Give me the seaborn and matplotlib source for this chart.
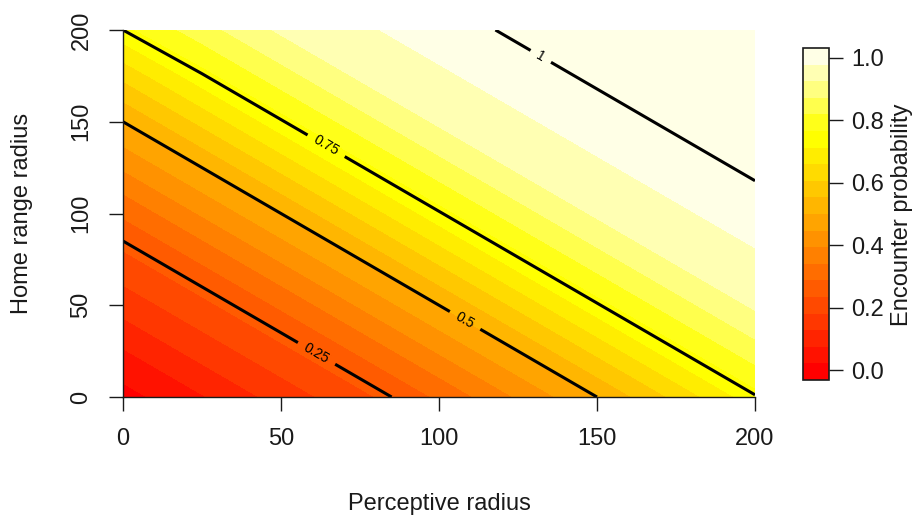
import numpy as np
import matplotlib
matplotlib.use("Agg")
import matplotlib.pyplot as plt
from matplotlib.colors import ListedColormap, BoundaryNorm, hsv_to_rgb
import seaborn as sns

# Grid of radii (both axes) and encounter probability at each node
perceptive_radius = [0, 25, 50, 75, 100, 125, 150, 175, 200]
home_range_radius = [0, 25, 50, 75, 100, 125, 150, 175, 200]
# rows: home range radius (0 -> 200), columns: perceptive radius (0 -> 200)
encounter_prob = [
    [0.000, 0.070, 0.150, 0.220, 0.295, 0.400, 0.500, 0.620, 0.745],
    [0.070, 0.150, 0.220, 0.295, 0.400, 0.500, 0.620, 0.745, 0.850],
    [0.150, 0.220, 0.295, 0.400, 0.500, 0.620, 0.745, 0.850, 0.935],
    [0.220, 0.295, 0.400, 0.500, 0.620, 0.745, 0.850, 0.935, 0.975],
    [0.295, 0.400, 0.500, 0.620, 0.745, 0.850, 0.935, 0.975, 0.990],
    [0.400, 0.500, 0.620, 0.745, 0.850, 0.935, 0.975, 0.990, 1.004],
    [0.500, 0.620, 0.745, 0.850, 0.935, 0.975, 0.990, 1.004, 1.015],
    [0.620, 0.745, 0.850, 0.935, 0.975, 0.990, 1.004, 1.015, 1.025],
    [0.750, 0.850, 0.935, 0.975, 0.990, 1.004, 1.015, 1.025, 1.030],
]
line_levels = [0.25, 0.5, 0.75, 1.0]
line_labels = {0.25: "0.25", 0.5: "0.5", 0.75: "0.75", 1.0: "1"}
label_spots = [(62, 26), (108, 41), (65, 139), (132, 185)]
cbar_ticks = [0.0, 0.2, 0.4, 0.6, 0.8, 1.0]
z_min, z_max, n_bands = -0.032, 1.032, 20

FS = 17
INK = "#1a1a1a"

sns.set_theme(style="ticks")
plt.rcParams["font.family"] = ["Liberation Sans", "DejaVu Sans"]
plt.rcParams["font.size"] = FS

# heat.colors-style palette: red -> yellow ramp, then fading yellows
n_ramp = n_bands - n_bands // 4
n_fade = n_bands // 4
ramp = [hsv_to_rgb((h, 1.0, 1.0)) for h in np.linspace(0, 1 / 6, n_ramp)]
fade = [hsv_to_rgb((1 / 6, s, 1.0))
        for s in np.linspace(1 - 1 / (2 * n_fade), 1 / (2 * n_fade), n_fade)]
cmap = ListedColormap(ramp + fade)
band_levels = np.linspace(z_min, z_max, n_bands + 1)
norm = BoundaryNorm(band_levels, cmap.N)

X, Y = np.meshgrid(perceptive_radius, home_range_radius)
Z = np.array(encounter_prob)

fig = plt.figure(figsize=(9.2, 5.2), dpi=100)
ax = fig.add_axes([123 / 920, 1 - 397 / 520, 632 / 920, 367 / 520])
cax = fig.add_axes([803 / 920, 1 - 380 / 520, 26 / 920, 332 / 520])

cf = ax.contourf(X, Y, Z, levels=band_levels, cmap=cmap, norm=norm)
cs = ax.contour(X, Y, Z, levels=line_levels, colors="black", linewidths=2.2)
ax.clabel(cs, fmt=line_labels, inline=True, fontsize=10, manual=label_spots,
          inline_spacing=8)

ax.set_xlim(0, 200)
ax.set_ylim(0, 200)
ax.set_xticks([0, 50, 100, 150, 200])
ax.set_yticks([0, 50, 100, 150, 200])
ax.tick_params(direction="out", length=10, width=1, pad=12, colors=INK,
               labelcolor=INK, labelsize=FS)
for lab in ax.get_yticklabels():
    lab.set_rotation(90)
    lab.set_va("center")
ax.spines["top"].set_visible(False)
ax.spines["right"].set_visible(False)
for side in ("left", "bottom"):
    ax.spines[side].set_color(INK)
    ax.spines[side].set_linewidth(1)
ax.set_xlabel("Perceptive radius", labelpad=31, fontsize=FS, color=INK)
ax.set_ylabel("Home range radius", labelpad=27, fontsize=FS, color=INK)

cb = fig.colorbar(cf, cax=cax, ticks=cbar_ticks)
cb.ax.minorticks_off()
cb.ax.set_yticklabels([f"{t:.1f}" for t in cbar_ticks])
cb.ax.tick_params(direction="out", length=10, width=1, pad=6, colors=INK,
                  labelcolor=INK, labelsize=FS)
cb.outline.set_edgecolor(INK)
cb.outline.set_linewidth(1.2)
cb.ax.set_ylim(z_min, z_max)
fig.text(902 / 920, 1 - 215 / 520, "Encounter probability", rotation=90,
         ha="center", va="center", fontsize=FS, color=INK)

fig.savefig("out.png", dpi=100)
